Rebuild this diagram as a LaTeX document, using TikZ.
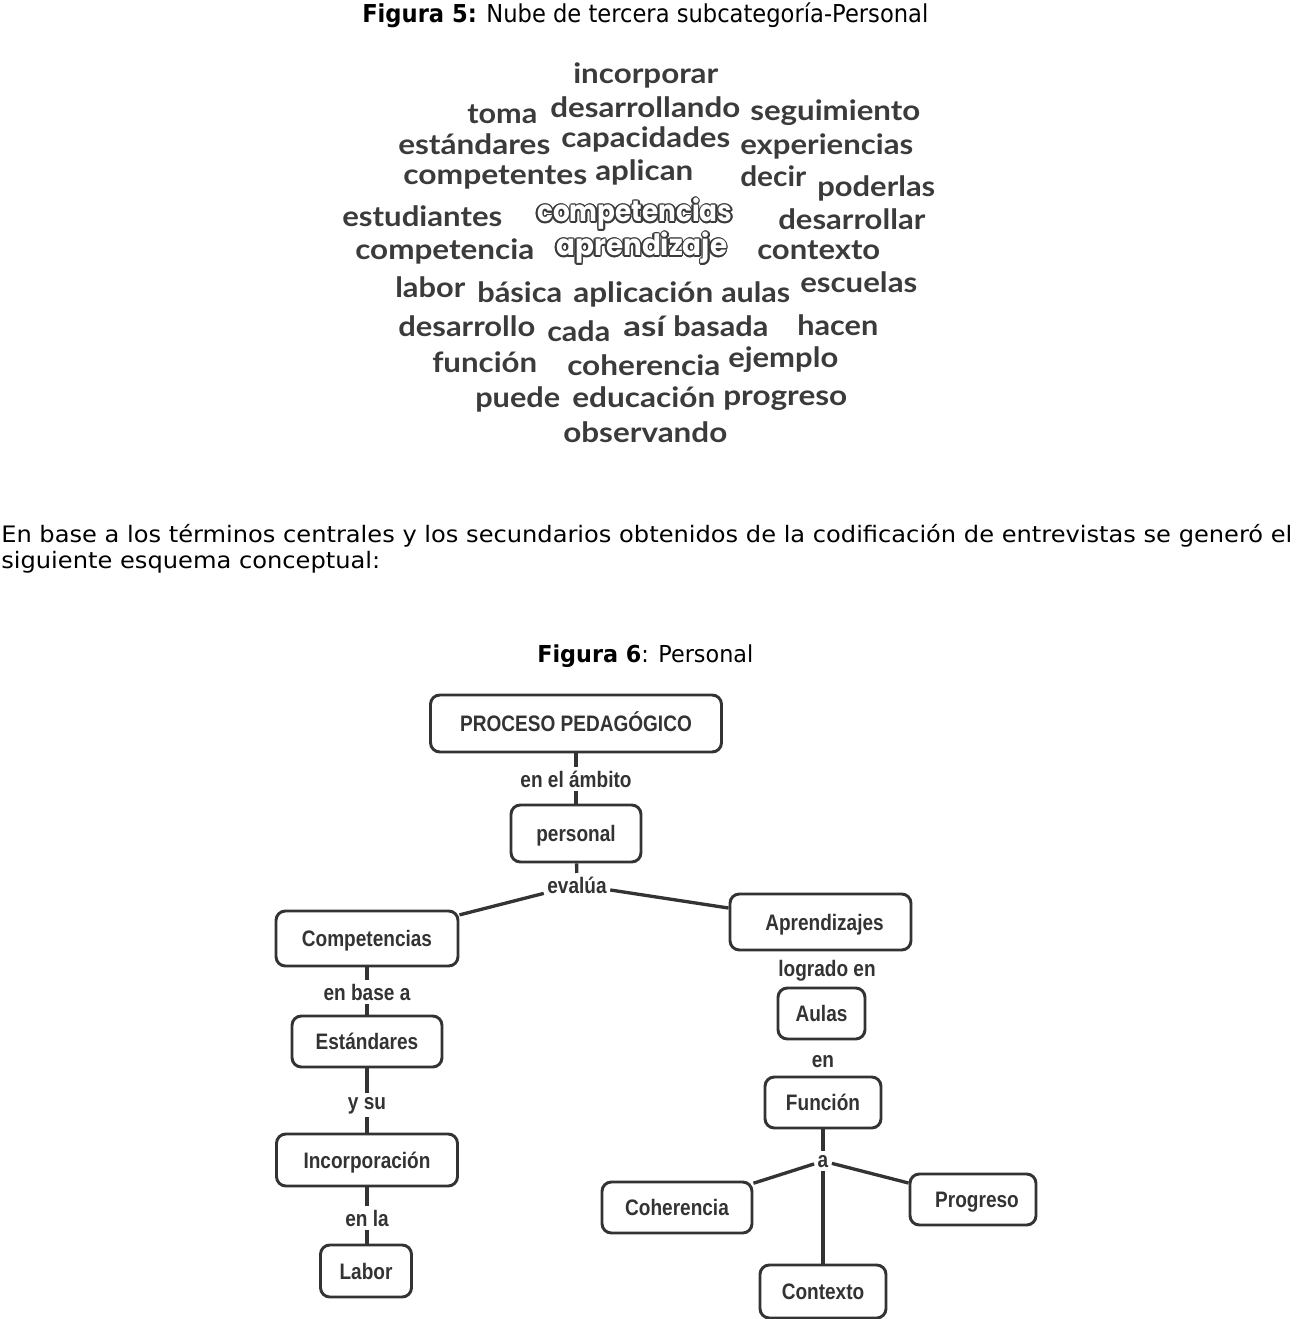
\documentclass[tikz,border=0pt]{standalone}
\usepackage{fontspec}
\usepackage{graphicx}
\setmainfont{DejaVu Sans}
\newfontfamily\cloudfont{Lato}
\newfontfamily\roundfont{Poppins}
\newfontfamily\mapfont{Liberation Sans}[FakeStretch=0.85]
\newfontfamily\capfont{DejaVu Sans}
\definecolor{cloudgray}{HTML}{3B3B3B}
\definecolor{mapgray}{HTML}{333333}
\newcommand\fitw[3]{\resizebox{\dimexpr(#2pt-#1pt)*3/4\relax}{\height}{#3}}
\newcommand\cloudword[5]{\node[cw] (#1) at (#2,#3) {\fitw{#2}{#4}{#5}};}
\newcommand\outword[5]{%
  \foreach \ang in {0,30,...,330}{\node[ow,text=cloudgray] at ([shift={(\ang:1.2pt)}]#2,#3) {\fitw{#2}{#4}{#5}};}%
  \node[ow,text=white] (#1) at (#2,#3) {\fitw{#2}{#4}{#5}};}
\begin{document}
\begin{tikzpicture}[x=0.75pt,y=-0.75pt,
  cw/.style={anchor=base west, inner sep=0pt, text=cloudgray, font=\cloudfont\bfseries\fontsize{21}{21}\selectfont},
  ow/.style={anchor=base west, inner sep=0pt, font=\roundfont\bfseries\fontsize{22}{22}\selectfont},
  capA/.style={anchor=base west, inner sep=0pt, font=\capfont\fontsize{18.5}{18.5}\selectfont},
  capB/.style={anchor=base west, inner sep=0pt, font=\capfont\fontsize{17.5}{17.5}\selectfont},
  para/.style={anchor=base west, inner sep=0pt, font=\capfont\fontsize{17}{17}\selectfont},
  concept/.style={draw=mapgray, line width=2.2pt, rounded corners=7pt, text=mapgray,
     font=\mapfont\bfseries\fontsize{16.8}{16.8}\selectfont, inner sep=0pt,
     text height=12pt, text depth=0pt},
  bx/.style 2 args={minimum width=#1*0.75pt, minimum height=#2*0.75pt},
  link/.style={anchor=base, text=mapgray, font=\mapfont\bfseries\fontsize{16.8}{16.8}\selectfont, inner sep=2.5pt},
  conn/.style={draw=mapgray, line width=2.5pt}
]
\useasboundingbox (0,0) rectangle (1300,1319);

% captions and paragraph
\node[capA] (fig5) at (362,23) {\fitw{362}{928}{\textbf{Figura 5:} Nube de tercera subcategoría-Personal}};
\node[para] (par1) at (1,542) {\fitw{1}{1292}{En base a los términos centrales y los secundarios obtenidos de la codificación de entrevistas se generó el}};
\node[para] (par2) at (1,568) {\fitw{1}{380}{siguiente esquema conceptual:}};
\node[capB] (fig6) at (537,662) {\fitw{537}{753}{\textbf{Figura 6}: Personal}};

% word cloud
\cloudword{w1}{573}{84}{718}{incorporar}
\cloudword{w2}{467}{124}{537}{toma}
\cloudword{w3}{550}{118}{740}{desarrollando}
\cloudword{w4}{750}{121}{920}{seguimiento}
\cloudword{w5}{398}{155}{550}{estándares}
\cloudword{w6}{561}{148}{730}{capacidades}
\cloudword{w7}{740}{155}{913}{experiencias}
\cloudword{w8}{403}{185}{587}{competentes}
\cloudword{w9}{595}{181}{693}{aplican}
\cloudword{w10}{740}{187}{806}{decir}
\cloudword{w11}{817}{197}{935}{poderlas}
\cloudword{w12}{342}{227}{502}{estudiantes}
\outword{w13}{537}{222}{732}{competencias}
\cloudword{w14}{778}{230}{925}{desarrollar}
\cloudword{w15}{355}{260}{534}{competencia}
\outword{w16}{556}{256}{727}{aprendizaje}
\cloudword{w17}{757}{260}{880}{contexto}
\cloudword{w18}{395}{298}{465}{labor}
\cloudword{w19}{477}{303}{562}{básica}
\cloudword{w20}{573}{303}{713}{aplicación}
\cloudword{w21}{721}{303}{790}{aulas}
\cloudword{w22}{800}{293}{917}{escuelas}
\cloudword{w23}{398}{337}{535}{desarrollo}
\cloudword{w24}{547}{341}{610}{cada}
\cloudword{w25}{623}{336}{665}{así}
\cloudword{w26}{673}{336}{768}{basada}
\cloudword{w27}{797}{335}{878}{hacen}
\cloudword{w28}{432}{372}{537}{función}
\cloudword{w29}{567}{375}{720}{coherencia}
\cloudword{w30}{728}{367}{838}{ejemplo}
\cloudword{w31}{475}{407}{560}{puede}
\cloudword{w32}{572}{407}{715}{educación}
\cloudword{w33}{723}{405}{847}{progreso}
\cloudword{w34}{563}{442}{727}{observando}

% concept map nodes
\node[concept, bx={291}{57}] (proc) at (576,723.5) {PROCESO PEDAGÓGICO};
\node[concept, bx={130}{57}] (pers) at (576,833.5) {personal};
\node[concept, bx={182}{55}] (comp) at (367,938.5) {Competencias};
\node[concept, bx={181}{56}] (apre) at (820.5,922) {\hspace*{6pt}Aprendizajes};
\node[concept, bx={150}{51}] (estd) at (367,1041.5) {Estándares};
\node[concept, bx={181}{52}] (inco) at (367,1160) {Incorporación};
\node[concept, bx={91}{52}] (labo) at (366,1271) {Labor};
\node[concept, bx={87}{51}] (aula) at (821.5,1013.5) {Aulas};
\node[concept, bx={116}{51}] (func) at (823,1102.5) {Función};
\node[concept, bx={150}{51}] (cohe) at (677,1207.5) {Coherencia};
\node[concept, bx={126}{51}] (prog) at (973,1199.5) {\hspace*{6pt}Progreso};
\node[concept, bx={126}{53}] (cont) at (823,1291.5) {Contexto};

% linking phrases
\node[link] (lamb) at (576,787) {en el ámbito};
\node[link] (leva) at (577,893) {evalúa};
\node[link] (lbas) at (367,1000) {en base a};
\node[link] (lysu) at (367,1109) {y su};
\node[link] (lla) at (367,1226) {en la};
\node[link] (llog) at (827,976) {logrado en};
\node[link] (len) at (823,1067) {en};
\node[link] (la) at (823,1167) {a};

% connectors
\draw[conn] (proc) -- (lamb);
\draw[conn] (lamb) -- (pers);
\draw[conn] (pers) -- (leva);
\draw[conn] (leva) -- (comp);
\draw[conn] (leva) -- (apre);
\draw[conn] (comp) -- (lbas);
\draw[conn] (lbas) -- (estd);
\draw[conn] (estd) -- (lysu);
\draw[conn] (lysu) -- (inco);
\draw[conn] (inco) -- (lla);
\draw[conn] (lla) -- (labo.north -| lla);
\draw[conn] (func) -- (la);
\draw[conn] (la) -- (cohe);
\draw[conn] (la) -- (prog);
\draw[conn] (la) -- (cont);
\end{tikzpicture}
\end{document}
